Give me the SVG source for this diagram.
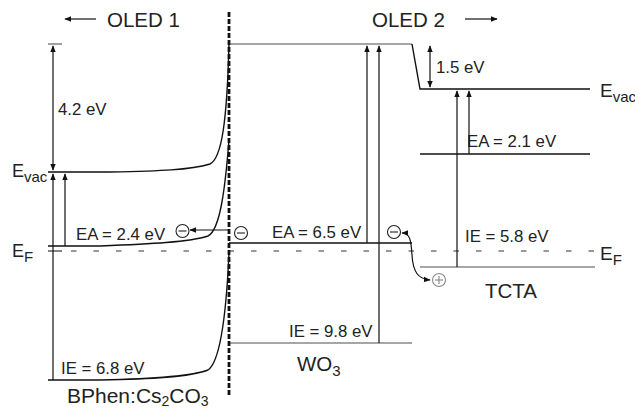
<svg xmlns="http://www.w3.org/2000/svg" width="635" height="410" viewBox="0 0 635 410">
<style>
text{font-family:"Liberation Sans",Arial,sans-serif;fill:#222}
.l{font-size:16.8px}
.t{font-size:20.5px}
.m{font-size:20.5px}
.e{font-size:18px}
.lv{stroke:#111;stroke-width:1.4;fill:none}
.gr{stroke:#888;stroke-width:1.4;fill:none}
.ar{stroke:#111;stroke-width:1.2;fill:none}
</style>
<defs>
<marker id="ah" viewBox="0 0 10 10" refX="9" refY="5" markerWidth="7" markerHeight="7" orient="auto-start-reverse" markerUnits="userSpaceOnUse"><path d="M0,1 L10,5 L0,9 z" fill="#111"/></marker>
</defs>
<g id="headers">
<line class="ar" x1="96" y1="19" x2="65" y2="19" marker-end="url(#ah)"/>
<text class="t" x="107" y="27">OLED 1</text>
<text class="t" x="372" y="27">OLED 2</text>
<line class="ar" x1="465" y1="19" x2="497" y2="19" marker-end="url(#ah)"/>
</g>
<g id="bphen">
<line class="lv" x1="48" y1="44" x2="62" y2="44" style="stroke:#777"/>
<path class="lv" d="M48,172 L110,172 C160,171 190,170 210,164 C222,158 227,120 229,44"/>
<path class="lv" d="M48,246 L100,246 C150,244 190,242 208,236 C220,230 225,190 229,140"/>
<path class="lv" d="M48,380 L100,380 C150,379 190,377 208,370 C220,362 226,320 229,253"/>
<text class="l" x="58" y="115">4.2 eV</text>
<text class="l" x="76" y="240">EA = 2.4 eV</text>
<text class="l" x="61" y="374">IE = 6.8 eV</text>
<text class="m" x="67" y="403" style="font-size:21px">BPhen:Cs<tspan font-size="14" dy="3">2</tspan><tspan dy="-3">CO</tspan><tspan font-size="14" dy="3">3</tspan></text>
</g>
<g id="wo3">
<line class="gr" x1="229" y1="44" x2="412" y2="44"/>
<line class="lv" x1="229" y1="243" x2="412" y2="243"/>
<line class="gr" x1="229" y1="343" x2="412" y2="343"/>
<text class="l" x="272" y="238">EA = 6.5 eV</text>
<text class="l" x="289" y="337">IE = 9.8 eV</text>
<text class="m" x="297" y="371">WO<tspan font-size="15" dy="5">3</tspan></text>
</g>
<g id="tcta">
<path class="lv" d="M412,44 L420,89 L590,89"/>
<line class="lv" x1="420" y1="154" x2="590" y2="154"/>
<line class="gr" x1="420" y1="267" x2="595" y2="267"/>
<text class="l" x="436" y="73">1.5 eV</text>
<text class="l" x="467" y="147">EA = 2.1 eV</text>
<text class="l" x="465" y="242">IE = 5.8 eV</text>
<text class="m" x="485" y="298">TCTA</text>
</g>
<g id="labels">
<text class="e" x="12" y="177">E<tspan font-size="15" dy="5">vac</tspan></text>
<text class="e" x="12" y="257">E<tspan font-size="15" dy="5">F</tspan></text>
<text class="e" x="600" y="97" style="font-size:19px">E<tspan font-size="15" dy="5">vac</tspan></text>
<text class="e" x="600" y="260" style="font-size:19px">E<tspan font-size="15" dy="5">F</tspan></text>
</g>
<g id="charges" style="fill:none;stroke:#222;stroke-width:1.1">
<circle cx="182.5" cy="231" r="6.5"/><line x1="178.5" y1="231" x2="186.5" y2="231"/>
<circle cx="241" cy="233" r="6.5"/><line x1="237" y1="233" x2="245" y2="233"/>
<circle cx="394" cy="232" r="6.5"/><line x1="390" y1="232" x2="398" y2="232"/>
<g style="stroke:#888"><circle cx="439" cy="280" r="6.5"/><line x1="435" y1="280" x2="443" y2="280"/><line x1="439" y1="276" x2="439" y2="284"/></g>
</g>
<g id="connectors">
<line x1="48" y1="251" x2="62" y2="251" stroke="#333" stroke-width="1.2"/>
<line x1="71" y1="251" x2="600" y2="251" stroke="#333" stroke-width="1.2" stroke-dasharray="5.5,17"/>
<line x1="229" y1="12" x2="229" y2="395" stroke="#111" stroke-width="2.8" stroke-dasharray="5,2"/>
<line class="ar" x1="53" y1="46" x2="53" y2="170" marker-start="url(#ah)" marker-end="url(#ah)"/>
<line class="ar" x1="53" y1="380" x2="53" y2="174" marker-end="url(#ah)"/>
<line class="ar" x1="65" y1="246" x2="65" y2="174" marker-end="url(#ah)"/>
<line class="ar" x1="367" y1="243" x2="367" y2="46" marker-end="url(#ah)"/>
<line class="ar" x1="379" y1="343" x2="379" y2="46" marker-end="url(#ah)"/>
<line class="ar" x1="430" y1="46" x2="430" y2="87" marker-start="url(#ah)" marker-end="url(#ah)"/>
<line class="ar" x1="457" y1="267" x2="457" y2="91" marker-end="url(#ah)"/>
<line class="ar" x1="469" y1="154" x2="469" y2="91" marker-end="url(#ah)"/>
<line class="ar" x1="228" y1="230" x2="190" y2="230" marker-end="url(#ah)"/>
<path class="ar" d="M402,233 C410,233 411,240 412,255 C413,272 418,279 430,280" marker-start="url(#ah)" marker-end="url(#ah)"/>
</g>
</svg>
